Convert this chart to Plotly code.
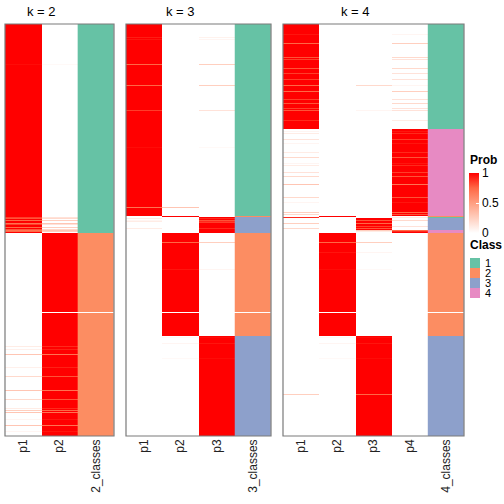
import plotly.graph_objects as go

N_ROWS = 412
MISSING_ROW = 288

# ---- data: class runs (start_row, end_row, class) per k ----
class_runs_k2 = [(0, 208, 1), (209, 411, 2)]
class_runs_k3 = [(0, 191, 1), (192, 192, 2), (193, 208, 3), (209, 311, 2), (312, 411, 3)]
class_runs_k4 = [(0, 104, 1), (105, 191, 4), (192, 192, 2), (193, 193, 1),
                 (194, 205, 3), (206, 208, 4), (209, 311, 2), (312, 411, 3)]

# ---- data: rows whose membership probabilities are not clean (row -> probs) ----
stripes_k2 = {
    40: [0.97, 0.03], 193: [0.85, 0.15], 194: [0.8, 0.2], 196: [0.75, 0.25],
    199: [0.7, 0.3], 200: [0.85, 0.15], 203: [0.75, 0.25], 205: [0.8, 0.2],
    206: [0.7, 0.3], 207: [0.75, 0.25],
    322: [0.1, 0.9], 325: [0.08, 0.92], 330: [0.3, 0.7], 343: [0.08, 0.92],
    352: [0.2, 0.8], 366: [0.3, 0.7], 375: [0.2, 0.8], 384: [0.1, 0.9],
    386: [0.25, 0.75], 388: [0.3, 0.7], 395: [0.05, 0.95], 401: [0.3, 0.7],
    407: [0.05, 0.95],
}
stripes_k3 = {
    13: [0.93, 0.0, 0.07], 15: [0.95, 0.0, 0.05], 40: [0.75, 0.0, 0.25],
    61: [0.75, 0.0, 0.25], 86: [0.85, 0.0, 0.15], 123: [0.97, 0.0, 0.03],
    183: [0.7, 0.3, 0.0], 192: [0.0, 1.0, 0.0],
    194: [0.1, 0.0, 0.9], 196: [0.05, 0.0, 0.8], 197: [0.1, 0.0, 0.9],
    198: [0.0, 0.0, 0.85], 204: [0.1, 0.0, 0.9],
    218: [0.0, 0.75, 0.25], 245: [0.0, 0.95, 0.05],
    313: [0.0, 0.03, 0.97], 319: [0.0, 0.05, 0.95], 334: [0.0, 0.03, 0.97],
}
stripes_k4 = {
    10: [0.95, 0, 0, 0.05], 19: [0.75, 0, 0, 0.25], 33: [0.8, 0, 0, 0.2],
    35: [0.85, 0, 0, 0.15], 44: [0.8, 0, 0, 0.2], 49: [0.85, 0, 0, 0.15],
    55: [0.85, 0, 0, 0.15], 61: [0.75, 0, 0.2, 0.05], 67: [0.75, 0, 0, 0.25],
    75: [0.85, 0, 0, 0.15], 79: [0.8, 0, 0, 0.2], 84: [0.85, 0, 0, 0.15],
    86: [0.8, 0, 0.05, 0.15], 96: [0.9, 0, 0, 0.1],
    107: [0.05, 0, 0, 0.95], 109: [0.1, 0, 0, 0.9], 115: [0.15, 0, 0, 0.85],
    119: [0.05, 0, 0, 0.95], 128: [0.1, 0, 0, 0.9], 133: [0.2, 0, 0, 0.8],
    139: [0.05, 0, 0, 0.95], 141: [0.1, 0, 0, 0.9], 148: [0.15, 0, 0, 0.85],
    152: [0.2, 0, 0, 0.8], 160: [0.3, 0, 0, 0.7], 173: [0.2, 0, 0, 0.8],
    178: [0.05, 0, 0, 0.95], 188: [0.25, 0, 0, 0.75], 190: [0.2, 0, 0, 0.8],
    192: [0, 1, 0, 0], 193: [0.9, 0, 0, 0.1],
    196: [0, 0, 0.8, 0.2], 199: [0.25, 0, 0.75, 0], 202: [0, 0, 0.85, 0.15],
    204: [0.2, 0, 0.8, 0],
    206: [0, 0, 0.25, 0.75], 207: [0, 0, 0.1, 0.9],
    218: [0, 0.75, 0.25, 0], 228: [0, 0.95, 0.05, 0], 245: [0, 0.97, 0.03, 0],
    313: [0, 0.03, 0.97, 0], 319: [0, 0.05, 0.95, 0], 334: [0, 0.03, 0.97, 0],
    370: [0.25, 0, 0.75, 0],
}

panels = [
    dict(k=2, runs=class_runs_k2, stripes=stripes_k2),
    dict(k=3, runs=class_runs_k3, stripes=stripes_k3),
    dict(k=4, runs=class_runs_k4, stripes=stripes_k4),
]

class_labels = ["1", "2", "3", "4"]
class_colors = ["#66C2A5", "#FC8D62", "#8DA0CB", "#E78AC3"]
prob_colorscale = [[0, "#FFFFFF"], [0.25, "#FFCFBF"], [0.5, "#FF9E81"],
                   [0.75, "#FF6846"], [1, "#FF0000"]]
class_colorscale = [[0, class_colors[0]], [1 / 6, class_colors[0]],
                    [1 / 6, class_colors[1]], [0.5, class_colors[1]],
                    [0.5, class_colors[2]], [5 / 6, class_colors[2]],
                    [5 / 6, class_colors[3]], [1, class_colors[3]]]

W = H = 504
px_domains = [(5, 114), (126, 271), (283, 464)]
top_px, bot_px = 24, 436
ydom = [1 - bot_px / H, 1 - top_px / H]

fig = go.Figure()
font = "Liberation Sans, Arial, sans-serif"
rows = list(range(N_ROWS))

for i, p in enumerate(panels):
    k = p["k"]
    cls = [None] * N_ROWS
    for s, e, c in p["runs"]:
        for r in range(s, e + 1):
            cls[r] = c
    probs = []
    for r in range(N_ROWS):
        if r in p["stripes"]:
            probs.append(list(p["stripes"][r]))
        else:
            probs.append([1.0 if (j + 1) == cls[r] else 0.0 for j in range(k)])
    cls[MISSING_ROW] = None
    probs[MISSING_ROW] = [None] * k
    xname = "x" if i == 0 else f"x{i+1}"
    yname = "y" if i == 0 else f"y{i+1}"
    labels = [f"p{j+1}" for j in range(k)] + [f"{k}_classes"]
    fig.add_trace(go.Heatmap(
        z=probs, x=list(range(k)), y=rows, xaxis=xname, yaxis=yname,
        colorscale=prob_colorscale, zmin=0, zmax=1,
        showscale=(i == 0),
        colorbar=dict(x=469 / W, xanchor="left", xpad=0, ypad=0,
                      y=1 - 203 / H, yanchor="middle",
                      len=60, lenmode="pixels", thickness=10, outlinewidth=0,
                      tickvals=[0, 0.5, 1], ticktext=["0", "0.5", "1"],
                      ticks="inside", ticklen=3, tickcolor="white",
                      tickfont=dict(family=font, size=12, color="#000")),
        hoverongaps=False,
    ))
    fig.add_trace(go.Heatmap(
        z=[[c] for c in cls], x=[k], y=rows, xaxis=xname, yaxis=yname,
        colorscale=class_colorscale, zmin=1, zmax=4, showscale=False,
        hoverongaps=False,
    ))
    d0, d1 = px_domains[i]
    ax = dict(domain=[d0 / W, d1 / W], anchor=yname, tickangle=-90,
              range=[-0.5, k + 0.5], tickmode="array",
              tickvals=list(range(k + 1)), ticktext=labels,
              tickfont=dict(family=font, size=12, color="#222"),
              showgrid=False, zeroline=False, ticks="", showline=False,
              automargin=False)
    ay = dict(domain=ydom, anchor=xname, range=[N_ROWS - 0.5, -0.5],
              showticklabels=False, showgrid=False, zeroline=False, ticks="",
              automargin=False)
    fig.layout["xaxis" if i == 0 else f"xaxis{i+1}"] = ax
    fig.layout["yaxis" if i == 0 else f"yaxis{i+1}"] = ay
    fig.add_shape(type="rect", xref=f"{xname} domain", yref=f"{yname} domain",
                  x0=0, x1=1, y0=0, y1=1, line=dict(color="#7a7a7a", width=1.2))
    title_x = d0 + (d1 - d0) * (k / (k + 1)) / 2
    fig.add_annotation(x=title_x / W, y=1 - 11 / H, xref="paper", yref="paper",
                       xanchor="center", yanchor="middle",
                       text=f"k = {k}", showarrow=False,
                       font=dict(family=font, size=13, color="#000"))

fig.add_annotation(x=469 / W, y=1 - 160 / H, xref="paper", yref="paper",
                   xanchor="left", yanchor="middle", text="<b>Prob</b>",
                   showarrow=False, borderpad=0,
                   font=dict(family=font, size=12, color="#000"))
fig.add_annotation(x=469 / W, y=1 - 245 / H, xref="paper", yref="paper",
                   xanchor="left", yanchor="middle", text="<b>Class</b>",
                   showarrow=False, borderpad=0,
                   font=dict(family=font, size=12, color="#000"))
for j, lab in enumerate(class_labels):
    y0 = 258 + 10 * j
    fig.add_shape(type="rect", xref="paper", yref="paper",
                  x0=470 / W, x1=480 / W, y0=1 - (y0 + 10) / H, y1=1 - y0 / H,
                  fillcolor=class_colors[j], line=dict(width=0))
    fig.add_annotation(x=484 / W, y=1 - (y0 + 5) / H, xref="paper", yref="paper",
                       xanchor="left", yanchor="middle", text=lab, showarrow=False,
                       borderpad=0,
                       font=dict(family=font, size=11, color="#000"))

fig.update_layout(template="none", width=W, height=H,
                  margin=dict(l=0, r=0, t=0, b=0, autoexpand=False),
                  plot_bgcolor="white", paper_bgcolor="white", showlegend=False)
fig.write_html("out.html", config={"displayModeBar": False},
               post_script="document.body.style.margin='0';document.body.style.overflow='hidden';")
